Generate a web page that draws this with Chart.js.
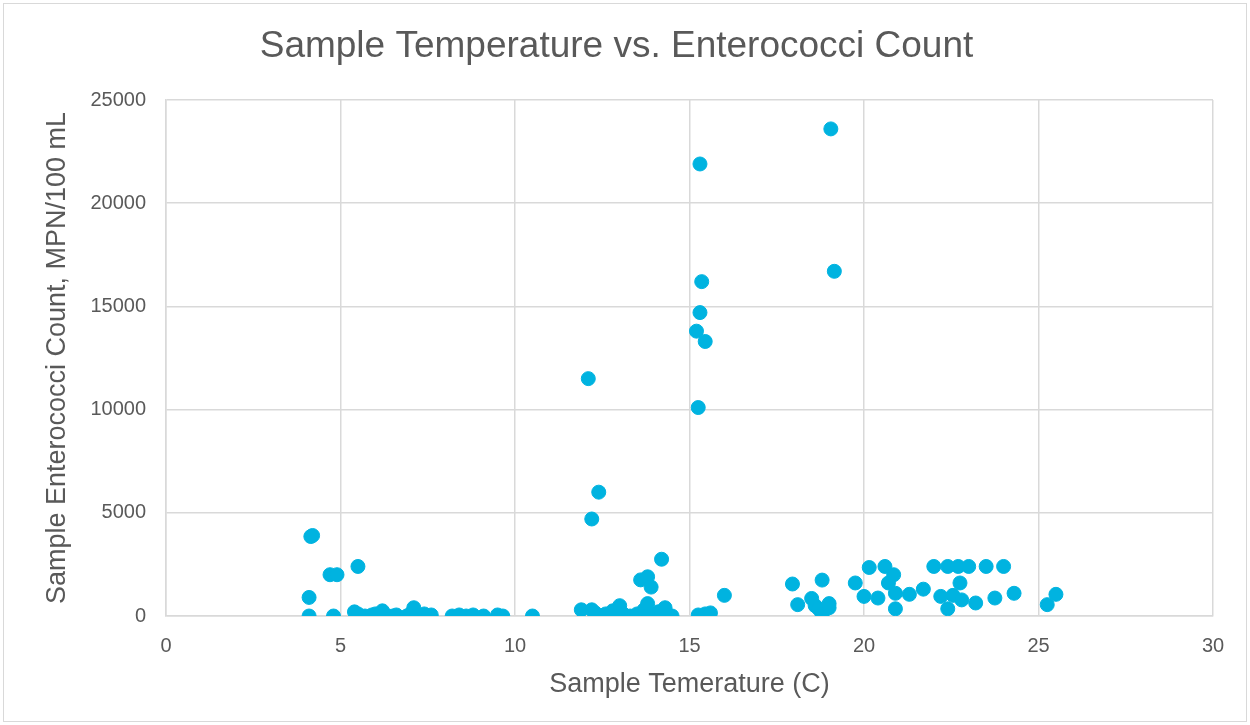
<!DOCTYPE html>
<html>
<head>
<meta charset="utf-8">
<script src="https://cdn.jsdelivr.net/npm/chart.js@4/dist/chart.umd.min.js"></script>
<style>
  html, body { margin: 0; padding: 0; background: #fff; }
  #frame { position: absolute; left: 3px; top: 3px; width: 1244px; height: 719px; border: 1px solid #d9d9d9; box-sizing: border-box; }
  #wrap { position: absolute; left: 0; top: 0; width: 1250px; height: 725px; }
</style>
</head>
<body>
<div id="frame"></div>
<div id="wrap"><canvas id="chart" width="1250" height="725"></canvas></div>
<script>
// Sample temperature (C)
const temps = [
  4.1, 4.1, 4.15, 4.2, 4.7, 4.9, 4.8, 5.5,
  5.4, 5.5, 5.7, 5.9, 6.0, 6.2, 6.3, 6.5, 6.6, 6.9, 7.0, 7.1, 7.2, 7.4, 7.5, 7.6,
  8.2, 8.4, 8.6, 8.8, 9.1, 9.5, 9.65, 10.5,
  11.9, 12.2, 12.3, 12.5, 12.6, 12.8, 13.0, 13.1, 13.3, 13.5, 13.7, 13.8, 14.0, 14.1, 14.2, 14.3, 14.4, 14.5,
  12.1, 12.2, 12.4, 13.6, 13.8, 13.9, 14.2,
  15.3, 15.35, 15.3, 15.2, 15.45, 15.25, 15.25, 15.45, 15.6, 16.0,
  19.05, 19.15,
  17.95, 18.8, 18.1, 18.5, 18.6, 18.8, 19.0, 18.7, 19.0,
  19.75, 20.15, 20.6, 20.85, 20.7, 20.0, 20.4, 20.9, 20.9, 21.3, 21.7,
  22.0, 22.4, 22.7, 23.0, 22.75, 22.2, 22.55, 22.4, 22.8, 23.2, 23.5, 24.0, 23.75, 24.3,
  25.25, 25.5
];

// Enterococci count (MPN/100 mL)
const counts = [
  900, 0, 3850, 3900, 2000, 2000, 0, 2400,
  200, 100, 0, 50, 100, 250, 50, 0, 50, 0, 100, 400, 50, 100, 0, 50,
  0, 50, 0, 50, 0, 50, 0, 0,
  300, 300, 150, 0, 100, 250, 500, 100, 0, 100, 300, 600, 50, 200, 100, 400, 50, 0,
  11500, 4700, 6000, 1750, 1900, 1400, 2750,
  21900, 16200, 14700, 13800, 13300, 10100, 50, 100, 150, 1000,
  23600, 16700,
  1550, 1740, 550, 850, 500, 50, 600, 350, 400,
  1600, 2350, 2400, 2000, 1600, 950, 870, 1100, 350, 1050, 1300,
  2400, 2400, 2400, 2400, 1600, 950, 1000, 350, 780, 630, 2400, 2400, 870, 1100,
  550, 1050
];

const xTicks = [0, 5, 10, 15, 20, 25, 30];
const yTicks = [0, 5000, 10000, 15000, 20000, 25000];

const points = temps.map((t, i) => ({ x: t, y: counts[i] }));
const tickColor = '#595959';
const gridColor = '#d9d9d9';
const family = 'Liberation Sans, Arial, sans-serif';

new Chart(document.getElementById('chart'), {
  type: 'scatter',
  data: {
    datasets: [{
      label: 'Enterococci',
      data: points,
      backgroundColor: '#00b3e0',
      borderColor: '#00b3e0',
      pointRadius: 7,
      pointHoverRadius: 7
    }]
  },
  options: {
    responsive: false,
    animation: false,
    layout: { padding: { left: 20, right: 37, top: 0, bottom: 0 } },
    plugins: {
      legend: { display: false },
      tooltip: { enabled: false },
      title: {
        display: true,
        text: 'Sample Temperature vs. Enterococci Count',
        color: tickColor,
        font: { family, size: 37, weight: 'normal' },
        padding: { top: 24.8, bottom: 30.8 }
      }
    },
    scales: {
      x: {
        type: 'linear',
        min: 0, max: 30,
        afterBuildTicks: (s) => { s.ticks = xTicks.map(v => ({ value: v })); },
        afterFit: (s) => { s.height = 109; },
        ticks: { color: tickColor, font: { family, size: 20 }, padding: 18, callback: (v) => String(v) },
        grid: { color: gridColor, lineWidth: 1.5, drawTicks: false },
        border: { color: gridColor, width: 1.5 },
        title: {
          display: true,
          text: 'Sample Temerature (C)',
          color: tickColor,
          font: { family, size: 27 },
          padding: { top: 0, bottom: 24 }
        }
      },
      y: {
        type: 'linear',
        min: 0, max: 25000,
        afterBuildTicks: (s) => { s.ticks = yTicks.map(v => ({ value: v })); },
        afterFit: (s) => { s.width = 146; },
        ticks: { color: tickColor, font: { family, size: 20 }, padding: 20, callback: (v) => String(v) },
        grid: { color: gridColor, lineWidth: 1.5, drawTicks: false },
        border: { color: gridColor, width: 1.5 },
        title: {
          display: true,
          text: 'Sample Enterococci Count, MPN/100 mL',
          color: tickColor,
          font: { family, size: 27 },
          padding: { top: 21, bottom: 21 }
        }
      }
    }
  }
});
</script>
</body>
</html>
